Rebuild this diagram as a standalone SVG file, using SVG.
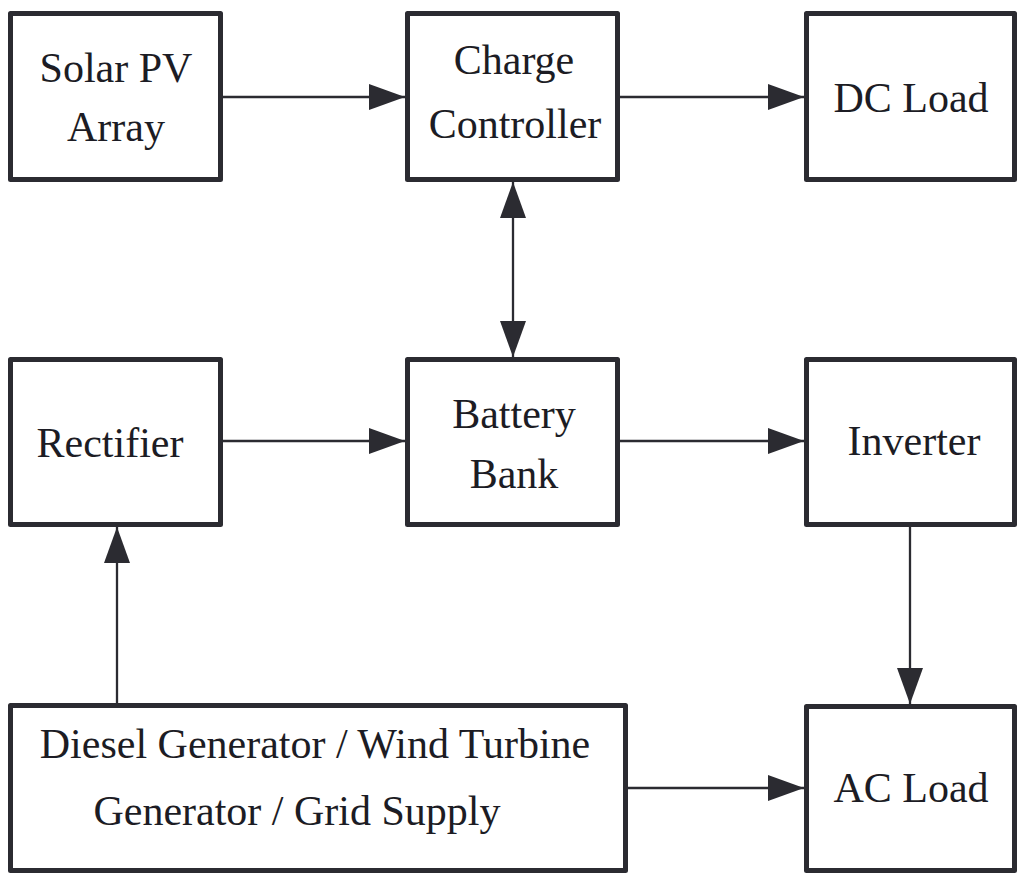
<svg xmlns="http://www.w3.org/2000/svg" width="1021" height="878" viewBox="0 0 1021 878">
  <style>
    .box { fill: #ffffff; stroke: #2b2b31; stroke-width: 5; stroke-linejoin: round; }
    .lbl { font-family: 'Liberation Serif', 'DejaVu Serif', serif; font-size: 42px; fill: #1c1c24; text-anchor: middle; }
    .conn { stroke: #2b2b31; stroke-width: 2.3; fill: none; }
  </style>
  <defs>
    <marker id="ah" markerUnits="userSpaceOnUse" markerWidth="36" markerHeight="26" refX="36" refY="13" orient="auto-start-reverse" viewBox="0 0 36 26">
      <path d="M0,0 L36,13 L0,26 z" fill="#2b2b31"/>
    </marker>
  </defs>
  <rect width="1021" height="878" fill="#ffffff"/>

  <g id="connectors">
    <line class="conn" x1="223" y1="97" x2="405" y2="97" marker-end="url(#ah)"/>
    <line class="conn" x1="620" y1="97" x2="804" y2="97" marker-end="url(#ah)"/>
    <line class="conn" x1="513" y1="182" x2="513" y2="357" marker-start="url(#ah)" marker-end="url(#ah)"/>
    <line class="conn" x1="223" y1="441" x2="405" y2="441" marker-end="url(#ah)"/>
    <line class="conn" x1="620" y1="441" x2="804" y2="441" marker-end="url(#ah)"/>
    <line class="conn" x1="117" y1="703" x2="117" y2="527" marker-end="url(#ah)"/>
    <line class="conn" x1="910" y1="525" x2="910" y2="704" marker-end="url(#ah)"/>
    <line class="conn" x1="628" y1="788" x2="804" y2="788" marker-end="url(#ah)"/>
  </g>

  <g id="solar-pv">
    <rect class="box" x="10.5" y="13.5" width="210" height="166"/>
    <text class="lbl" x="116" y="82" font-family="Liberation Serif, serif">Solar PV</text>
    <text class="lbl" x="116" y="141">Array</text>
  </g>
  <g id="charge-controller">
    <rect class="box" x="407.5" y="13.5" width="210" height="166"/>
    <text class="lbl" x="514" y="74">Charge</text>
    <text class="lbl" x="515" y="138">Controller</text>
  </g>
  <g id="dc-load">
    <rect class="box" x="806.5" y="13.5" width="208" height="166"/>
    <text class="lbl" x="911" y="112">DC Load</text>
  </g>
  <g id="rectifier">
    <rect class="box" x="10.5" y="359.5" width="210" height="165"/>
    <text class="lbl" x="110" y="457">Rectifier</text>
  </g>
  <g id="battery-bank">
    <rect class="box" x="407.5" y="359.5" width="210" height="165"/>
    <text class="lbl" x="514" y="428">Battery</text>
    <text class="lbl" x="514" y="488">Bank</text>
  </g>
  <g id="inverter">
    <rect class="box" x="806.5" y="359.5" width="208" height="165"/>
    <text class="lbl" x="914" y="455">Inverter</text>
  </g>
  <g id="diesel-generator">
    <rect class="box" x="10.5" y="705.5" width="615" height="165"/>
    <text class="lbl" x="315" y="758">Diesel Generator / Wind Turbine</text>
    <text class="lbl" x="297" y="825">Generator / Grid Supply</text>
  </g>
  <g id="ac-load">
    <rect class="box" x="806.5" y="706.5" width="208" height="164"/>
    <text class="lbl" x="911" y="802">AC Load</text>
  </g>
</svg>
